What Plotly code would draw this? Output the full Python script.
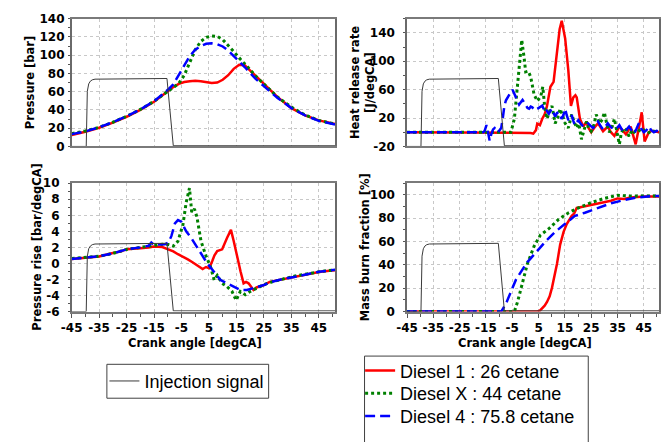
import plotly.graph_objects as go

# ---------------- data ----------------
# Injection signal (normalised, plotted on hidden secondary axes)
inj_angle = [-45, -39.7, -39.3, -38.8, -38.2, -37.5, -36.5, -30, -20, -10.3, -8.0, -7.6, 50.9]
inj_signal = [0, 0, 0.82, 0.93, 0.97, 0.99, 1.0, 1.0, 1.005, 1.01, 0.01, 0.01, 0.01]

# Cylinder pressure [bar]
p_angle = [-45, -40, -35, -30, -25, -20, -15, -12, -10, -8, -6, -4, -2, 0, 2, 4, 6, 8, 10, 12, 14, 16, 18, 20, 22, 25, 30, 35, 40, 45, 50.9]
p_d1 = [12.5, 16, 20.5, 26, 32.5, 40, 49, 56, 61, 65, 68.5, 70.5, 71.5, 72, 71.5, 70.5, 69.5, 70, 73, 78, 85, 89.5, 89, 83, 77, 68, 54, 42, 34, 28.5, 24.5]
p_dx = [14, 17, 21, 26.5, 33, 40.5, 49.5, 56, 61, 65, 69, 78, 92, 106, 115, 119.5, 121, 120.5, 117, 111, 104, 97, 91, 84, 77, 68, 54, 43, 34.5, 28.5, 24.5]
p_d4 = [13.5, 16.5, 21, 26.5, 33, 40.5, 49.5, 56.5, 62, 68, 78, 89, 99, 106, 110, 112.5, 113, 112, 109.5, 105, 99.5, 93, 87, 80, 74, 66, 53, 42, 34, 28, 24]

# Heat release rate [J/degCA]
h_d1_angle = [-45, -1, 1, 2, 3, 4, 4.5, 5.5, 6.4, 7.3, 8.2, 9, 9.5, 10.7, 11.3, 12, 13, 13.8, 14.5, 15.1, 16.3, 17.3, 18.2, 19, 19.5, 20.7, 22, 23.2, 24, 25, 26.5, 27.6, 29.5, 31.3, 32.5, 33.8, 35.7, 37, 38.2, 40, 41, 41.9, 43.1, 44.2, 45.3, 46.9, 48, 49.4, 50.9]
h_d1 = [0, 0, 0, -1, -2, 3, 12, 10, 19, 25, 37, 55, 64, 71, 90, 114, 145, 157, 145, 132, 87, 37, 49, 52, 49, 19, 8, 15, 6, 0, 8, 12.5, 1.4, 8, 0, -5, 8, 2, -3, 8, -5, -17, 6, 28, -13, 0, 2, 1, 0]
h_dx_angle = [-45, -5.5, -4.2, -3, -2, -1.4, -0.5, 0.1, 1.1, 2, 3.3, 4.5, 5.8, 6.6, 7.4, 8.2, 9.2, 10.1, 11.3, 12.2, 13.2, 14.2, 15.1, 16.3, 17.6, 18.5, 19.5, 20.3, 21.3, 22.2, 23.2, 24, 25, 26, 26.9, 28.2, 29.2, 30, 31, 31.9, 33, 33.8, 34.8, 35.7, 36.5, 37.5, 38.5, 39.4, 40.5, 41.3, 42.5, 43.8, 45, 46.3, 48, 50, 50.9]
h_dx = [0, 0, 19, 64, 110, 130, 105, 85, 86, 78, 53, 44, 50, 64, 33, 19, 30, 37, 12.5, 20, 33, 22, 12.5, 6, 25, 15, 6, 12, -10, 2, 15, 6, 1.4, 10, 25, 12.5, 18, 28, 10, 0, 8, 19, 2, -17, 0, 6, 2, -6, 3, 0, 4, 1.4, 3, -2, 2, 1, 0]
h_d4_angle = [-45, -16, -15.5, -14.8, -14.2, -13.6, -13, -12.3, -11.7, -11, -10.5, -9.8, -9.2, -8.6, -8, -7.4, -6.7, -5.8, -4.9, -4.2, -3.6, -3, -2.4, -1.7, -1.1, -0.5, 0.1, 0.8, 1.4, 2, 2.6, 3.5, 4.5, 5.5, 6.4, 7, 7.6, 8.3, 8.9, 9.5, 10.1, 10.7, 11.3, 12, 12.6, 13.2, 13.8, 14.5, 15.1, 15.7, 16.3, 17, 17.6, 18.2, 18.8, 19.5, 20.1, 21, 22, 22.9, 23.8, 24.8, 25.7, 26.6, 27.6, 28.5, 29.5, 30.4, 31.3, 32.5, 33.8, 34.8, 35.7, 36.6, 37.5, 38.5, 39.4, 40.3, 41.3, 42.2, 43.1, 44, 45, 46, 46.9, 47.8, 48.8, 49.8, 50.9]
h_d4 = [0, 0, 2, 10, 0, -12, -3, 4, 6, 2, 0, 3, 6, 20, 37, 45, 50, 55, 60, 53, 50, 44, 39, 42, 45.5, 42, 38.7, 34, 33, 36, 35, 31, 33, 35, 37.5, 32, 35, 29, 26, 30, 33, 27, 22, 27, 28, 22, 19, 25, 33, 24, 17, 20, 24, 16, 10, 14, 17, 12, 8, 10, 12.5, 9, 6, 10, 15, 9, 4, 8, 12.5, 7, 4, 6, 10, 4, 0, 4, 8, 3, -2, 5, 12.5, 5, 0, 3, 8, 3, 0, 2, 1]

# Pressure rise [bar/degCA]
r_d1_angle = [-45, -40, -35, -30, -27, -25, -22, -20, -17, -15, -12, -10, -8, -6.3, -4.5, -2.7, -1, 0.9, 2.7, 3.9, 5.1, 6.2, 7, 8, 9.8, 11.6, 13, 14, 15.2, 16.5, 17.6, 18.5, 19.4, 20.5, 21.2, 22.3, 23.5, 25, 27.1, 30, 33.1, 36, 39, 42, 45, 48, 50.9]
r_d1 = [0.55, 0.7, 0.87, 1.3, 1.5, 1.78, 1.9, 1.9, 2.0, 2.1, 2.05, 1.8, 1.5, 1.15, 0.85, 0.5, 0.15, -0.27, -0.7, -0.45, -0.6, 0.3, 1.0, 1.55, 1.76, 3.2, 4.18, 2.8, 0.8, -1.0, -2.48, -2.3, -2.48, -3.0, -3.3, -3.0, -2.9, -2.7, -2.3, -2.1, -1.9, -1.7, -1.48, -1.25, -1.07, -0.95, -0.86]
r_dx_angle = [-45, -40, -35, -30, -25, -20, -15, -12, -9.8, -8, -6.3, -4.5, -3.3, -2.1, -1.3, -0.3, 0.6, 2.1, 3.9, 5.6, 6.9, 8, 9.8, 11.6, 13.4, 14.9, 16.4, 18.2, 20, 22.3, 24.7, 27, 30, 33, 36, 39, 42, 45, 48, 50.9]
r_dx = [0.6, 0.75, 0.9, 1.25, 1.75, 2.0, 2.2, 2.4, 2.36, 2.16, 2.77, 4.8, 7.6, 9.4, 6.4, 6.8, 5.8, 2.77, 0.95, -0.46, -2.08, -1.5, -2.48, -2.9, -3.5, -4.6, -3.5, -3.9, -3.5, -3.1, -2.7, -2.4, -2.1, -1.85, -1.6, -1.4, -1.2, -1.05, -0.9, -0.8]
r_d4_angle = [-45, -40, -35, -30, -25, -20, -17, -16, -15, -13.4, -11, -9.8, -8.7, -7.4, -6.3, -5.1, -4.2, -3.3, -1.5, 0.9, 2.7, 4.5, 6.9, 9.2, 11.6, 14, 16.4, 18.8, 21.2, 23.5, 25, 27.1, 30, 33, 36, 39, 42, 45, 48, 50.9]
r_d4 = [0.55, 0.75, 0.9, 1.25, 1.75, 2.0, 2.2, 2.6, 2.3, 2.36, 2.4, 2.6, 3.4, 5.0, 5.4, 5.2, 4.6, 4.0, 3.2, 1.96, 0.95, -0.06, -1.07, -2.08, -2.48, -2.9, -3.3, -3.3, -3.1, -2.85, -2.7, -2.35, -2.1, -1.85, -1.7, -1.45, -1.25, -1.05, -0.9, -0.8]

# Mass burn fraction [%]
m_d1_angle = [-45, 4.5, 5.5, 6.4, 7.3, 8.2, 9.2, 10.1, 11, 12, 13.2, 14.5, 15.7, 17.6, 18.5, 19.5, 21.3, 23, 25, 27.5, 30, 32.5, 35, 37.5, 40, 42.5, 45, 50.9]
m_d1 = [0, 0, 0.8, 2.7, 5, 8.2, 13, 20.5, 30, 41, 57.4, 68.3, 75, 82, 84, 88.8, 89.6, 90.5, 91.5, 92.5, 94.3, 95, 97, 96.5, 97.8, 98.3, 98.6, 98.6]
m_dx_angle = [-45, -4.2, -3, -1.1, 0.75, 3.3, 5.7, 8.9, 12.6, 16.4, 20.1, 25, 30, 35, 40, 45, 50.9]
m_dx = [0, 0, 8.2, 24.6, 41, 56, 65.6, 71, 79, 84.7, 88.8, 93.4, 97, 99.7, 98.9, 99, 99]
m_d4_angle = [-45, -9.2, -7.4, -5.5, -3.6, -1.7, 0.75, 3.9, 7.6, 11.3, 15.1, 18.8, 22.6, 27.6, 32.6, 37.5, 42.5, 47.5, 50.9]
m_d4 = [0, 0, 6.8, 17.8, 27.3, 34, 42.4, 50.5, 60, 68.3, 75, 82, 84.7, 88.8, 92.9, 95.6, 97.8, 98.9, 99]

names = ["Diesel 1 : 26 cetane", "Diesel X : 44 cetane", "Diesel 4 : 75.8 cetane"]
colors = ["#ff0000", "#008000", "#0000ff"]
dashes = ["solid", "dot", "10px,5px"]
widths = [2.5, 3, 2.5]

x_range = [-45, 50.9]
x_ticks = [-45, -35, -25, -15, -5, 5, 15, 25, 35, 45]
x_ticktext = ["-45", "-35", "-25", "-15", "-5", "5", "15", "25", "35", "45"]
y1_ticks = [0, 20, 40, 60, 80, 100, 120, 140]
y2_ticks = [-20, 20, 60, 100, 140]
y2_ticktext = ["-20", "20", "60", "100", "140"]
y3_ticks = [-6, -4, -2, 0, 2, 4, 6, 8, 10]
y3_ticktext = ["-6", "-4", "-2", "0", "2", "4", "6", "8", "10"]
y4_ticks = [0, 20, 40, 60, 80, 100]

# ---------------- figure ----------------
W, H = 663, 442
fig = go.Figure()

panels = [
    ("x", "y", "y5", [(p_angle, p_d1), (p_angle, p_dx), (p_angle, p_d4)]),
    ("x2", "y2", "y6", [(h_d1_angle, h_d1), (h_dx_angle, h_dx), (h_d4_angle, h_d4)]),
    ("x3", "y3", "y7", [(r_d1_angle, r_d1), (r_dx_angle, r_dx), (r_d4_angle, r_d4)]),
    ("x4", "y4", "y8", [(m_d1_angle, m_d1), (m_dx_angle, m_dx), (m_d4_angle, m_d4)]),
]
diesel_legends = ["legend2", "legend3", "legend4"]

for pi, (xa, ya, yi, series) in enumerate(panels):
    for si, (xs, ys) in enumerate(series):
        fig.add_trace(go.Scatter(
            x=xs, y=ys, xaxis=xa, yaxis=ya, mode="lines", name=names[si],
            line=dict(color=colors[si], width=widths[si], dash=dashes[si]),
            legend=diesel_legends[si], showlegend=(pi == 0), hoverinfo="skip"))
    fig.add_trace(go.Scatter(
        x=inj_angle, y=inj_signal, xaxis=xa, yaxis=yi, mode="lines",
        name="Injection signal", line=dict(color="#3a3a3a", width=1),
        legend="legend", showlegend=(pi == 0), hoverinfo="skip"))

xL = [61.7 / W, 329.5 / W]
xR = [402.7 / W, 659.3 / W]
yT = [1 - 144 / H, 1 - 12 / H]
yB = [1 - 314.5 / H, 1 - 182 / H]

tick_font = dict(family="DejaVu Sans", size=12, color="#000000", weight="bold")
grid = dict(showgrid=True, gridcolor="#c8c8c8", gridwidth=1, griddash="dot")


def xaxis(domain, anchor, labels):
    d = dict(domain=domain, anchor=anchor, range=x_range, tickvals=x_ticks,
             ticktext=x_ticktext, tickangle=0,
             showticklabels=labels, tickfont=tick_font, zeroline=False,
             showline=True, linecolor="#7a7a7a", linewidth=2, mirror=True, **grid)
    if labels:
        d.update(ticks="outside", ticklen=4, tickcolor="#555555",
                 minor=dict(tick0=-45, dtick=5, ticks="outside", ticklen=3,
                            tickcolor="#555555", showgrid=False))
    else:
        d.update(ticks="")
    return d


def yaxis(domain, anchor, rng, tickvals, ticktext, minor_dtick, minor_tick0, standoff):
    return dict(domain=domain, anchor=anchor, range=rng, tickvals=tickvals,
                ticktext=ticktext,
                tickfont=tick_font, zeroline=False, showline=True,
                linecolor="#6a6a6a", linewidth=1.5, mirror=True,
                ticks="outside", ticklen=2, tickcolor="#555555",
                ticklabelstandoff=standoff,
                minor=dict(tick0=minor_tick0, dtick=minor_dtick, ticks="outside",
                           ticklen=2, tickcolor="#555555", showgrid=False),
                **grid)


def injaxis(over, domain):
    return dict(overlaying=over, domain=domain, range=[0, 1.9], visible=False,
                showgrid=False, zeroline=False)


leg_font = dict(family="Liberation Sans, Arial", size=18, color="#000000")


def legend(xpx, ypx):
    return dict(x=xpx / W, y=1 - ypx / H, xanchor="left", yanchor="middle",
                borderwidth=0, bgcolor="rgba(0,0,0,0)", font=leg_font, itemwidth=30)


fig.update_layout(
    width=W, height=H, margin=dict(l=0, r=0, t=0, b=0),
    paper_bgcolor="white", plot_bgcolor="white", showlegend=True,
    xaxis=xaxis(xL, "y", False),
    xaxis2=xaxis(xR, "y2", False),
    xaxis3=xaxis(xL, "y3", True),
    xaxis4=xaxis(xR, "y4", True),
    yaxis=yaxis(yT, "x", [0, 140], y1_ticks, None, 10, 0, 1),
    yaxis2=yaxis(yT, "x2", [-20, 160], y2_ticks, y2_ticktext, 20, -20, 6),
    yaxis3=yaxis(yB, "x3", [-6, 10], y3_ticks, y3_ticktext, 1, -6, 6),
    yaxis4=yaxis(yB, "x4", [0, 110], y4_ticks, None, 10, 0, 6),
    yaxis5=injaxis("y", yT),
    yaxis6=injaxis("y2", yT),
    yaxis7=injaxis("y3", yB),
    yaxis8=injaxis("y4", yB),
    legend=legend(95, 386.5),
    legend2=legend(355, 375.7),
    legend3=legend(355, 399.3),
    legend4=legend(355, 422.7),
)

# legend frames
fig.add_shape(type="rect", xref="paper", yref="paper",
              x0=97.5 / W, x1=262 / W, y0=1 - 404 / H, y1=1 - 369 / H,
              line=dict(color="#404040", width=1), fillcolor="rgba(0,0,0,0)", layer="below")
fig.add_shape(type="rect", xref="paper", yref="paper",
              x0=359.5 / W, x1=587 / W, y0=1 - 450 / H, y1=1 - 360.5 / H,
              line=dict(color="#404040", width=1), fillcolor="rgba(0,0,0,0)", layer="below")

title_font = dict(family="DejaVu Sans", size=11.5, color="#000000")
ann = [
    dict(text="<b>Pressure [bar]</b>", x=19 / W, y=1 - 78 / H, textangle=-90),
    dict(text="<b>Heat release rate</b><br><b>[J/degCA]</b>", x=357.5 / W, y=1 - 78 / H, textangle=-90),
    dict(text="<b>Pressure rise [bar/degCA]</b>", x=27 / W, y=1 - 248 / H, textangle=-90),
    dict(text="<b>Mass burn fraction [%]</b>", x=360 / W, y=1 - 248 / H, textangle=-90),
    dict(text="<b>Crank angle [degCA]</b>", x=187.5 / W, y=1 - 347 / H, textangle=0),
    dict(text="<b>Crank angle [degCA]</b>", x=523 / W, y=1 - 347 / H, textangle=0),
]
for a in ann:
    fig.add_annotation(xref="paper", yref="paper", xanchor="center", yanchor="middle",
                       showarrow=False, font=title_font, **a)

fig.write_html("out.html")
